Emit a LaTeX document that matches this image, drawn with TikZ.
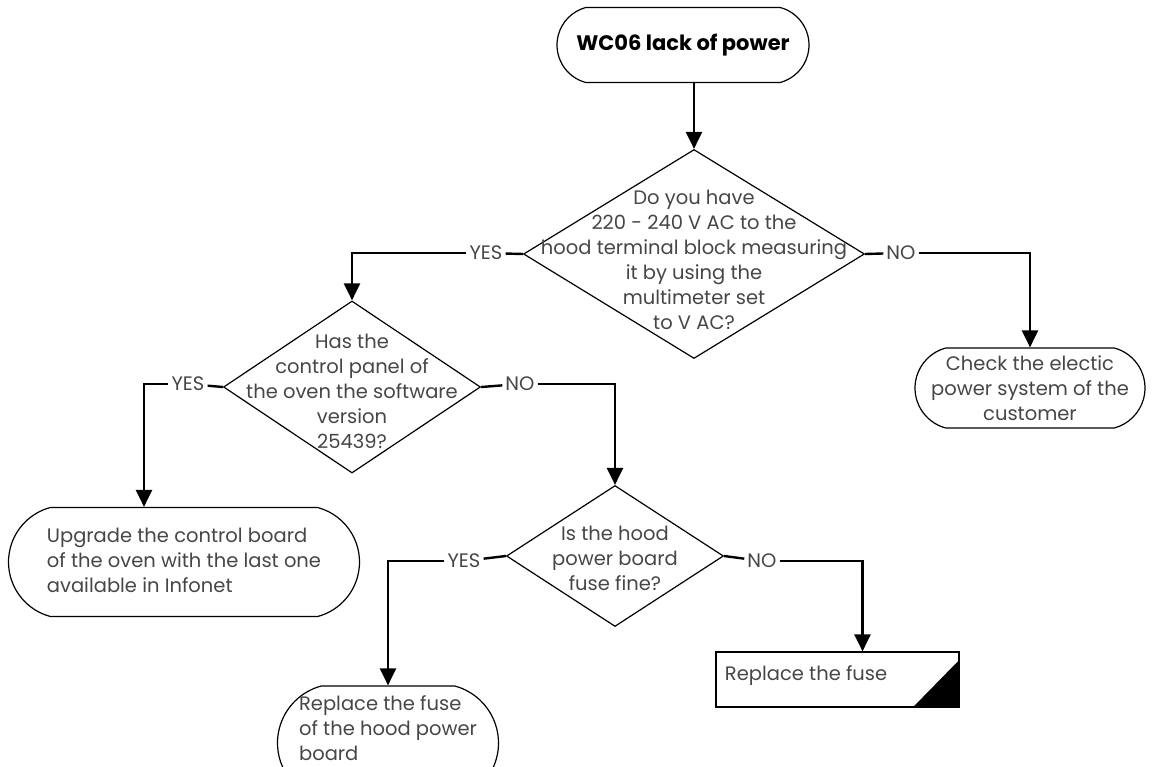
\documentclass[tikz,border=0pt]{standalone}
\usepackage{fontspec}
\setmainfont{Poppins}
\usepackage{tikz}
\usetikzlibrary{arrows.meta,positioning,shapes.geometric,shapes.misc,calc}
\definecolor{txtcol}{RGB}{70,70,70}

\begin{document}
\begin{tikzpicture}[
    x=1pt, y=-1pt,
    >={Triangle[length=17pt,width=16pt]},
    base/.style={draw, line width=1.2pt, inner sep=0pt, text=txtcol,
                 font=\fontsize{19.5}{25}\selectfont},
    term/.style={base, rounded rectangle, rounded rectangle arc length=150,
                 align=center},
    decision/.style={base, diamond},
    qtext/.style={align=center, text=txtcol, font=\fontsize{19.5}{25}\selectfont},
    action/.style={base, rectangle, align=left},
    lbl/.style={inner sep=3pt, text=txtcol, font=\fontsize{19.5}{22}\selectfont},
    conn/.style={line width=2.4pt}
  ]
  \useasboundingbox (0,0) rectangle (1154,766);

  \node[term, minimum width=252pt, minimum height=75pt, text=black,
        font=\fontsize{21}{25}\selectfont\bfseries] (start) at (683,45)
    {WC06 lack of power};

  % first question
  \node[decision, minimum width=341pt, minimum height=209pt] (q1) at (694,254) {};
  \node[qtext] at ([yshift=-6pt]q1) {Do you have\\220 - 240 V AC to the\\hood terminal block measuring\\it by using the\\multimeter set\\to V AC?};
  \node[lbl] (y1) at (486,253) {YES};
  \node[lbl] (n1) at (901,253) {NO};

  \node[term, minimum width=230pt, minimum height=80pt] (check) at (1030,388)
    {Check the electic\\power system of the\\customer};

  % second question
  \node[decision, minimum width=257pt, minimum height=172pt] (q2) at (352,387) {};
  \node[qtext] at ([yshift=-4pt]q2) {Has the\\control panel of\\the oven the software\\version\\25439?};
  \node[lbl] (y2) at (188,384) {YES};
  \node[lbl] (n2) at (520,384) {NO};

  \node[term, minimum width=351pt, minimum height=109pt] (upg) at (184,562)
    {\begin{tabular}{@{}l@{}}Upgrade the control board\\of the oven with the last one\\available in Infonet\end{tabular}};

  % third question
  \node[decision, minimum width=217pt, minimum height=141pt] (q3) at (615,556) {};
  \node[qtext] at ([yshift=-2pt]q3) {Is the hood\\power board\\fuse fine?};
  \node[lbl] (y3) at (464,561) {YES};
  \node[lbl] (n3) at (762,561) {NO};

  \node[term, minimum width=221pt, minimum height=114pt] (hood) at (388,743) {};
  \node[qtext, align=left] at ([yshift=15pt]hood)
    {Replace the fuse\\of the hood power\\board};

  \node[action, minimum width=243pt, minimum height=55pt] (fuse) at (837.5,679.5) {};
  \node[qtext, anchor=west] at ([xshift=6pt,yshift=4pt]fuse.west) {Replace the fuse};
  \fill (fuse.south east) -- ++(0,-48) -- ++(-47,48) -- cycle;

  % connectors
  \draw[conn,->] (start.south -| q1) -- (q1.north);
  \draw[conn] (q1.west) -- (y1);
  \draw[conn,->] (y1) -| (q2.north);
  \draw[conn] (q1.east) -- (n1);
  \draw[conn,->] (n1) -| (check.north);
  \draw[conn] (q2.west) -- (y2);
  \draw[conn,->] (y2) -| ([xshift=-40pt]upg.north);
  \draw[conn] (q2.east) -- (n2);
  \draw[conn,->] (n2) -| (q3.north);
  \draw[conn] (q3.west) -- (y3);
  \draw[conn,->] (y3) -| (hood.north);
  \draw[conn] (q3.east) -- (n3);
  \draw[conn,->] (n3) -| ([xshift=25pt]fuse.north);
\end{tikzpicture}
\end{document}
